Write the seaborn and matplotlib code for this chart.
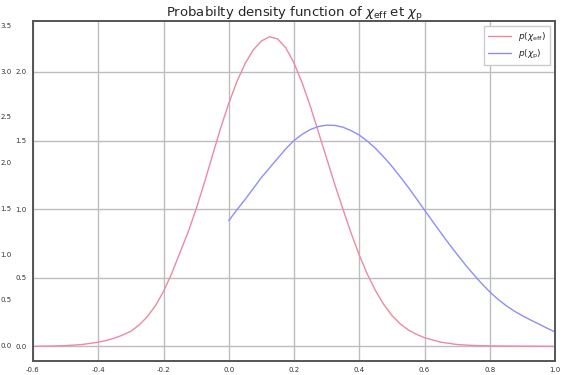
import numpy as np
import pandas as pd
import matplotlib
matplotlib.use("Agg")
import matplotlib.pyplot as plt
import seaborn as sns

# --- data ---
chi_eff_x = [-0.600, -0.550, -0.500, -0.450, -0.400, -0.375, -0.350, -0.325, -0.300, -0.275,
             -0.250, -0.225, -0.200, -0.175, -0.150, -0.125, -0.100, -0.075, -0.050, -0.025,
             0.000, 0.025, 0.050, 0.075, 0.100, 0.125, 0.150, 0.175, 0.200, 0.225,
             0.250, 0.275, 0.300, 0.325, 0.350, 0.375, 0.400, 0.425, 0.450, 0.475,
             0.500, 0.525, 0.550, 0.575, 0.600, 0.650, 0.700, 0.750, 0.800, 0.900, 1.000]
chi_eff_p = [0.000, 0.002, 0.005, 0.013, 0.030, 0.043, 0.060, 0.082, 0.110, 0.155,
             0.215, 0.295, 0.400, 0.530, 0.680, 0.830, 1.000, 1.190, 1.390, 1.590,
             1.770, 1.930, 2.060, 2.160, 2.225, 2.256, 2.240, 2.175, 2.065, 1.920,
             1.750, 1.560, 1.370, 1.180, 1.000, 0.825, 0.665, 0.525, 0.405, 0.305,
             0.225, 0.165, 0.120, 0.088, 0.063, 0.030, 0.013, 0.006, 0.003, 0.001, 0.000]

chi_p_x = [0.000, 0.025, 0.050, 0.075, 0.100, 0.125, 0.150, 0.175, 0.200, 0.225,
           0.250, 0.275, 0.300, 0.325, 0.350, 0.375, 0.400, 0.425, 0.450, 0.475,
           0.500, 0.525, 0.550, 0.575, 0.600, 0.625, 0.650, 0.675, 0.700, 0.725,
           0.750, 0.775, 0.800, 0.825, 0.850, 0.875, 0.900, 0.925, 0.950, 0.975, 1.000]
chi_p_p = [0.915, 0.995, 1.070, 1.150, 1.230, 1.300, 1.370, 1.440, 1.500, 1.545,
           1.580, 1.602, 1.612, 1.610, 1.597, 1.572, 1.540, 1.495, 1.442, 1.380,
           1.312, 1.237, 1.160, 1.077, 0.993, 0.910, 0.828, 0.747, 0.670, 0.595,
           0.525, 0.458, 0.397, 0.343, 0.297, 0.257, 0.223, 0.192, 0.163, 0.133, 0.105]

x_ticks = [-0.6, -0.4, -0.2, 0.0, 0.2, 0.4, 0.6, 0.8, 1.0]
y_ticks_inner = [0.0, 0.5, 1.0, 1.5, 2.0]
y_ticks_outer = [0.0, 0.5, 1.0, 1.5, 2.0, 2.5, 3.0, 3.5]

title = r"Probabilty density function of $\chi_{\rm eff}$ et $\chi_{\rm p}$"
lab_eff = r"$p(\chi_{\rm eff})$"
lab_p = r"$p(\chi_{\rm p})$"

sns.set_style("white")
plt.rcParams['font.family'] = ['DejaVu Sans']

fig = plt.figure(figsize=(5.64, 3.75), dpi=100)
W, H = 564, 375
left, right, top, bottom = 33, 555, 21, 361
rect = [left / W, 1 - bottom / H, (right - left) / W, (bottom - top) / H]

# outer (background) axis: only its y tick labels are visible
ax_out = fig.add_axes(rect, zorder=0)
ax_out.set_xlim(-0.6, 1.0)
ax_out.set_ylim(-0.169, 3.55)
ax_out.set_yticks(y_ticks_outer)
ax_out.set_yticklabels([f"{v:.1f}" for v in y_ticks_outer])
ax_out.tick_params(axis='y', length=0, pad=15.5, labelsize=5, colors='#333333')
ax_out.set_xticks([])
for s in ax_out.spines.values():
    s.set_visible(False)

ax = fig.add_axes(rect, zorder=1)
df_eff = pd.DataFrame({"x": chi_eff_x, "p": chi_eff_p})
df_p = pd.DataFrame({"x": chi_p_x, "p": chi_p_p})
sns.lineplot(data=df_eff, x="x", y="p", ax=ax, color="#ec8aa2", lw=1.0, label=lab_eff)
sns.lineplot(data=df_p, x="x", y="p", ax=ax, color="#8d8dff", lw=1.0, label=lab_p)

ax.set_xlim(-0.6, 1.0)
ax.set_ylim(-0.107, 2.371)
ax.set_xticks(x_ticks)
ax.set_xticklabels([f"{v:.1f}" for v in x_ticks])
ax.set_yticks(y_ticks_inner)
ax.set_yticklabels([f"{v:.1f}" for v in y_ticks_inner])
ax.set_xlabel("")
ax.set_ylabel("")
ax.grid(True, color="#bdbdbd", lw=1.0)
ax.tick_params(axis='both', length=2.5, width=0.8, labelsize=5, colors='#333333', pad=2)
for s in ax.spines.values():
    s.set_visible(True)
    s.set_color("#555555")
    s.set_linewidth(1.4)

ax.legend(loc="upper right", fontsize=6.5, frameon=True, framealpha=1.0,
          edgecolor="#cccccc", fancybox=False, handlelength=2.5, borderpad=0.5)
ax.set_title(title, fontsize=9.5, pad=3)

fig.savefig("out.png", dpi=100)
